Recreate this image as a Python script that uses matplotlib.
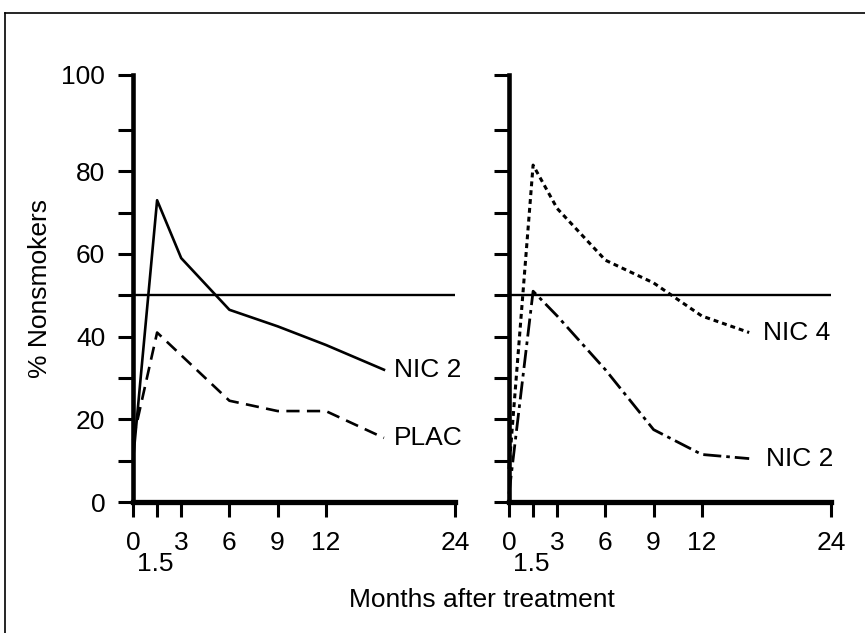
import numpy as np
import matplotlib
matplotlib.use("Agg")
import matplotlib.pyplot as plt
from matplotlib.transforms import ScaledTranslation
from matplotlib.lines import Line2D

plt.rcParams['font.family'] = ['Liberation Sans', 'DejaVu Sans']

# ---- data ----
x_ticks = [0, 1.5, 3, 6, 9, 12, 24]
x_tick_labels = ["0", "1.5", "3", "6", "9", "12", "24"]
y_ticks = [0, 10, 20, 30, 40, 50, 60, 70, 80, 90, 100]
y_tick_labels = ["0", "", "20", "", "40", "", "60", "", "80", "", "100"]
reference_level = 50

left_months = [0, 1.5, 3, 6, 9, 12, 17.4]
left_nic2 = [10, 73, 59, 46.5, 42.5, 38, 32]
left_plac = [15, 41, 35.5, 24.5, 22, 22, 15.5]

right_months = [0, 1.5, 3, 6, 9, 12, 16.4]
right_nic4 = [8, 81.5, 71, 58.5, 53, 45, 41]
right_nic2 = [2, 51, 45, 32, 17.5, 11.5, 10.5]

xlabel = "Months after treatment"
ylabel = "% Nonsmokers"


def fwd_x(x):
    x = np.asarray(x, dtype=float)
    return np.where(x <= 12, x, 12 + (x - 12) * 0.67)


def inv_x(u):
    u = np.asarray(u, dtype=float)
    return np.where(u <= 12, u, 12 + (u - 12) / 0.67)


def fwd_y(y):
    y = np.asarray(y, dtype=float)
    return np.where(y <= 90, y, 90 + (y - 90) * 1.33)


def inv_y(u):
    u = np.asarray(u, dtype=float)
    return np.where(u <= 90, u, 90 + (u - 90) / 1.33)


W, H = 865, 633
fig = plt.figure(figsize=(W / 100, H / 100), dpi=100)

bottom = 1 - 502 / H
top = 1 - 75 / H
axL = fig.add_axes([133 / W, bottom, (455 - 133) / W, top - bottom])
axR = fig.add_axes([509 / W, bottom, (831 - 509) / W, top - bottom])

FS = 19
for ax in (axL, axR):
    ax.set_xscale('function', functions=(fwd_x, inv_x))
    ax.set_yscale('function', functions=(fwd_y, inv_y))
    ax.set_xlim(0, 24)
    ax.set_ylim(0, 100)
    for s in ('top', 'right'):
        ax.spines[s].set_visible(False)
    ax.spines['left'].set_linewidth(3.3)
    ax.spines['bottom'].set_linewidth(3.8)
    ax.set_xticks(x_ticks)
    ax.set_xticklabels(x_tick_labels, fontsize=FS)
    ax.set_yticks(y_ticks)
    ax.minorticks_off()
    ax.tick_params(axis='both', direction='out', length=11, width=2.2, color='black')
    ax.tick_params(axis='x', pad=10)
    ax.tick_params(axis='y', pad=9)
    ax.axhline(reference_level, color='black', lw=1.7, zorder=1)
    # shift the 1.5 label down
    for lab in ax.get_xticklabels():
        if lab.get_text() == "1.5":
            lab.set_transform(lab.get_transform() + ScaledTranslation(-1 / 72, -15 / 72, fig.dpi_scale_trans))

axL.set_yticklabels(y_tick_labels, fontsize=FS)
axR.set_yticklabels([""] * len(y_ticks))

# left panel lines
axL.plot(left_months, left_nic2, color='black', lw=1.9, clip_on=False, solid_joinstyle='round')
axL.plot(left_months, left_plac, color='black', lw=1.9, dashes=(5, 2.8), clip_on=False)
# right panel lines
axR.plot(right_months, right_nic4, color='black', lw=2.2, dashes=(1.6, 1.3), clip_on=False)
axR.plot(right_months, right_nic2, color='black', lw=2.0, dashes=(6.5, 1.8, 1.3, 1.8), clip_on=False)

def end_label(ax, xs, ys, text, dx):
    ax.annotate(text, xy=(xs[-1], ys[-1]), xytext=(dx, 0), textcoords='offset points',
                ha='left', va='center', fontsize=FS)

end_label(axL, left_months, left_nic2, "NIC 2", 7)
end_label(axL, left_months, left_plac, "PLAC", 7)
end_label(axR, right_months, right_nic4, "NIC 4", 10)
end_label(axR, right_months, right_nic2, "NIC 2", 12)

fig.text(482 / W, 1 - 600 / H, xlabel, ha='center', va='center', fontsize=FS)
fig.text(40 / W, 1 - 288 / H, ylabel, ha='center', va='center', rotation=90, fontsize=FS)

# outer frame (partial, as in the scanned figure)
fig.add_artist(Line2D([5 / W, 5 / W], [0, 1 - 13 / H], transform=fig.transFigure, color='black', lw=1.2))
fig.add_artist(Line2D([5 / W, 1], [1 - 13 / H, 1 - 13 / H], transform=fig.transFigure, color='black', lw=1.2))

fig.savefig("out.png", dpi=100, facecolor='white')
